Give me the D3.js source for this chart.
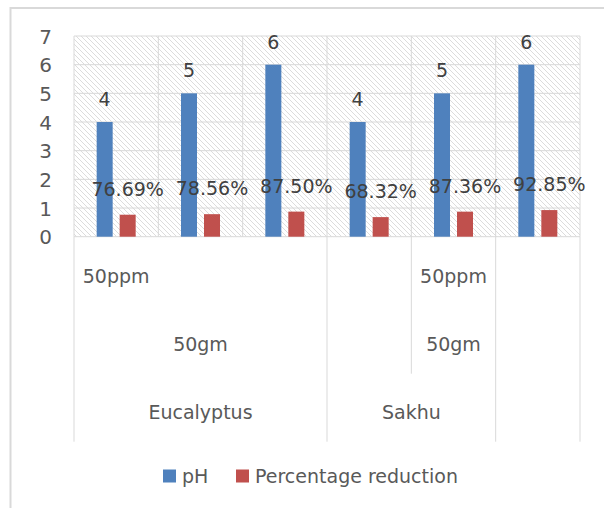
<!DOCTYPE html>
<html>
<head>
<meta charset="utf-8">
<script src="https://cdn.jsdelivr.net/npm/d3@7"></script>
<style>
  html, body { margin: 0; padding: 0; background: #fff; }
  svg { display: block; }
  text { font-family: "DejaVu Sans", sans-serif; }
</style>
</head>
<body>
<svg id="chart" width="604" height="508"></svg>
<script>
// ---- data ----
const categories = ["c1", "c2", "c3", "c4", "c5", "c6"];
const level1Labels = ["50ppm", "", "", "", "50ppm", ""];
const level2Groups = [
  { label: "50gm", start: 0, end: 3 },
  { label: "", start: 3, end: 4 },
  { label: "50gm", start: 4, end: 5 },
  { label: "", start: 5, end: 6 }
];
const level3Groups = [
  { label: "Eucalyptus", start: 0, end: 3 },
  { label: "Sakhu", start: 3, end: 5 },
  { label: "", start: 5, end: 6 }
];
// group boundary index and how many label rows the divider crosses
const dividers = [
  { at: 0, depth: 3 }, { at: 3, depth: 3 }, { at: 4, depth: 2 },
  { at: 5, depth: 3 }, { at: 6, depth: 3 }
];
const seriesNames = ["pH", "Percentage reduction"];
const phValues = [4, 5, 6, 4, 5, 6];
const reductionValues = [0.7669, 0.7856, 0.8750, 0.6832, 0.8736, 0.9285];
const yTicks = [0, 1, 2, 3, 4, 5, 6, 7];
const colors = ["#4F81BD", "#C0504D"];

// ---- layout ----
const svg = d3.select("#chart");
const plot = { left: 74, right: 580, top: 36, bottom: 236.7 };
const rowH = 68;
const textColor = "#595959";
const gridColor = "#d9d9d9";

// chart frame
svg.append("rect")
  .attr("x", 10.5).attr("y", 8).attr("width", 620).attr("height", 520)
  .attr("fill", "#fff").attr("stroke", gridColor).attr("stroke-width", 2);

// hatch pattern
const defs = svg.append("defs");
const pat = defs.append("pattern")
  .attr("id", "hatch").attr("patternUnits", "userSpaceOnUse")
  .attr("width", 5).attr("height", 5);
pat.append("rect").attr("width", 5).attr("height", 5).attr("fill", "#fff");
pat.append("path")
  .attr("d", "M0,0L5,5M-1,4L1,6M4,-1L6,1")
  .attr("stroke", "#dcdcdc").attr("stroke-width", 1);

const x = d3.scaleBand().domain(categories).range([plot.left, plot.right]).padding(0);
const y = d3.scaleLinear().domain([0, 7]).range([plot.bottom, plot.top]);
const inner = d3.scaleBand().domain(seriesNames)
  .range([-19.5, 19.5]).paddingInner(0.3043).paddingOuter(0);

// plot background
svg.append("rect")
  .attr("x", plot.left).attr("y", plot.top)
  .attr("width", plot.right - plot.left).attr("height", plot.bottom - plot.top)
  .attr("fill", "url(#hatch)");

// horizontal gridlines
svg.append("g").selectAll("line").data(yTicks).join("line")
  .attr("x1", plot.left).attr("x2", plot.right)
  .attr("y1", d => y(d)).attr("y2", d => y(d))
  .attr("stroke", gridColor).attr("stroke-width", 1);

// vertical gridlines at category boundaries
const bounds = d3.range(categories.length + 1);
const xb = i => plot.left + i * x.step();
svg.append("g").selectAll("line").data(bounds).join("line")
  .attr("x1", d => xb(d)).attr("x2", d => xb(d))
  .attr("y1", plot.top).attr("y2", plot.bottom)
  .attr("stroke", gridColor).attr("stroke-width", 1);

// y axis tick labels
const yAxis = d3.axisLeft(y).tickValues(yTicks).tickFormat(d3.format("d")).tickSize(0).tickPadding(0);
const yg = svg.append("g").attr("transform", `translate(52,0)`).call(yAxis);
yg.select(".domain").remove();
yg.selectAll("text").attr("fill", textColor).attr("font-size", 20)
  .attr("font-family", "DejaVu Sans, sans-serif").attr("dy", "0.36em");

// bars
const bars = svg.append("g");
bars.selectAll(".ph").data(phValues).join("rect")
  .attr("x", (d, i) => x(categories[i]) + x.bandwidth() / 2 + inner("pH"))
  .attr("width", inner.bandwidth())
  .attr("y", d => y(d)).attr("height", d => y(0) - y(d))
  .attr("fill", colors[0]);
bars.selectAll(".red").data(reductionValues).join("rect")
  .attr("x", (d, i) => x(categories[i]) + x.bandwidth() / 2 + inner("Percentage reduction"))
  .attr("width", inner.bandwidth())
  .attr("y", d => y(d)).attr("height", d => y(0) - y(d))
  .attr("fill", colors[1]);

// data labels
svg.append("g").selectAll("text").data(phValues).join("text")
  .attr("x", (d, i) => x(categories[i]) + x.bandwidth() / 2 + inner("pH") + inner.bandwidth() / 2)
  .attr("y", d => y(d) - 16)
  .attr("text-anchor", "middle").attr("font-size", 19).attr("fill", "#404040")
  .text(d => d);
const pct = d3.format(".2%");
svg.append("g").selectAll("text").data(reductionValues).join("text")
  .attr("x", (d, i) => x(categories[i]) + x.bandwidth() / 2 + inner("Percentage reduction") + inner.bandwidth() / 2)
  .attr("y", d => y(d) - 19)
  .attr("text-anchor", "middle").attr("font-size", 19).attr("fill", "#404040")
  .text(d => pct(d));

// multi-level category axis
const axisTop = plot.bottom;
svg.append("g").selectAll("line").data(dividers).join("line")
  .attr("x1", d => xb(d.at)).attr("x2", d => xb(d.at))
  .attr("y1", axisTop).attr("y2", d => axisTop + d.depth * rowH + 1)
  .attr("stroke", gridColor).attr("stroke-width", 1);

const lvl = svg.append("g").attr("font-size", 19).attr("fill", textColor).attr("text-anchor", "middle");
lvl.selectAll(".l1").data(level1Labels).join("text")
  .attr("x", (d, i) => x(categories[i]) + x.bandwidth() / 2)
  .attr("y", axisTop + 46.5)
  .text(d => d);
lvl.selectAll(".l2").data(level2Groups).join("text")
  .attr("x", d => (xb(d.start) + xb(d.end)) / 2)
  .attr("y", axisTop + 46.5 + rowH)
  .text(d => d.label);
lvl.selectAll(".l3").data(level3Groups).join("text")
  .attr("x", d => (xb(d.start) + xb(d.end)) / 2)
  .attr("y", axisTop + 46.5 + rowH * 2)
  .text(d => d.label);

// legend
const legendX = [163, 236];
const leg = svg.append("g");
seriesNames.forEach((s, i) => {
  leg.append("rect").attr("x", legendX[i]).attr("y", 469.5)
    .attr("width", 13).attr("height", 13).attr("fill", colors[i]);
  leg.append("text").attr("x", legendX[i] + 19).attr("y", 483)
    .attr("font-size", 19).attr("fill", textColor).text(s);
});
</script>
</body>
</html>
